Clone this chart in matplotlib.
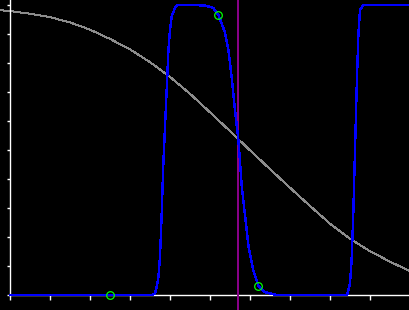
import matplotlib
matplotlib.use("Agg")
import matplotlib.pyplot as plt

# gray falling curve
grey_x = [-0.25, 0, 0.5, 1.0, 1.5, 2.0, 2.5, 3.0, 3.5, 4.0, 4.5, 5.0, 5.5,
          6.0, 6.5, 7.0, 7.5, 8.0, 8.5, 9.0, 9.5, 10.0]
grey_y = [0.982, 0.979, 0.970, 0.958, 0.940, 0.915, 0.883, 0.847, 0.803, 0.752,
          0.694, 0.630, 0.565, 0.499, 0.434, 0.370, 0.307, 0.246, 0.194, 0.151,
          0.115, 0.082]

# blue pass-band curve
blue_x = [0, 3.54, 3.625, 3.67, 3.71, 3.75, 3.79, 3.83, 3.875, 3.92, 3.96, 4.0,
          4.04, 4.125, 4.2, 4.6, 4.875, 5.08, 5.21, 5.375, 5.46, 5.54, 5.625,
          5.71, 5.75, 5.79, 5.875, 5.96, 6.08, 6.21, 6.375, 6.67, 8.43, 8.5,
          8.54, 8.58, 8.625, 8.67, 8.71, 8.75, 8.83, 10.0]
blue_y = [0, 0, 0.005, 0.029, 0.063, 0.132, 0.27, 0.443, 0.58, 0.718, 0.845,
          0.914, 0.96, 0.99, 1.0, 1.0, 0.998, 0.99, 0.966, 0.905, 0.845, 0.753,
          0.638, 0.534, 0.46, 0.38, 0.275, 0.17, 0.085, 0.032, 0.01, 0,
          0, 0.04, 0.12, 0.27, 0.5, 0.73, 0.9, 0.983, 1.0, 1.0]

# sample points (green circles)
mark_x = [2.5, 5.21, 6.21]
mark_y = [0.0, 0.966, 0.032]

cut_x = 5.7  # purple vertical line

fig = plt.figure(figsize=(4.1, 3.1), dpi=100, facecolor='black')
ax = fig.add_axes([0, 0, 1, 1])
ax.set_facecolor('black')

ax.plot(grey_x, grey_y, color='#8c8c8c', lw=0.7, zorder=2, antialiased=False)
ax.axvline(cut_x, color='#880088', lw=1.2, zorder=3, antialiased=False)
ax.plot(blue_x, blue_y, color='#0000ff', lw=1.0, zorder=4, antialiased=False)
ax.plot(mark_x, mark_y, 'o', ms=5.5, mfc='none', mec='#00ff00', mew=0.9, zorder=5)

ax.set_xlim(-0.25, 10)
ax.set_ylim(-15 / 290, 1 + 5 / 290)

# axes through the origin
for s in ['top', 'right']:
    ax.spines[s].set_visible(False)
ax.spines['left'].set_position(('data', 0))
ax.spines['bottom'].set_position(('data', 0))
ax.spines['left'].set_bounds(0, 1 + 5 / 290)
ax.spines['bottom'].set_bounds(0, 10)
for s in ['left', 'bottom']:
    ax.spines[s].set_color('white')
    ax.spines[s].set_linewidth(1.0)

ax.set_xticks(range(0, 11))
ax.set_yticks([i / 10 for i in range(0, 11)])
ax.tick_params(colors='white', direction='out', labelbottom=False, labelleft=False)
ax.tick_params(axis='x', length=3.5, width=1)
ax.tick_params(axis='y', length=2.5, width=1)

fig.savefig('out.png', dpi=100, facecolor='black')
